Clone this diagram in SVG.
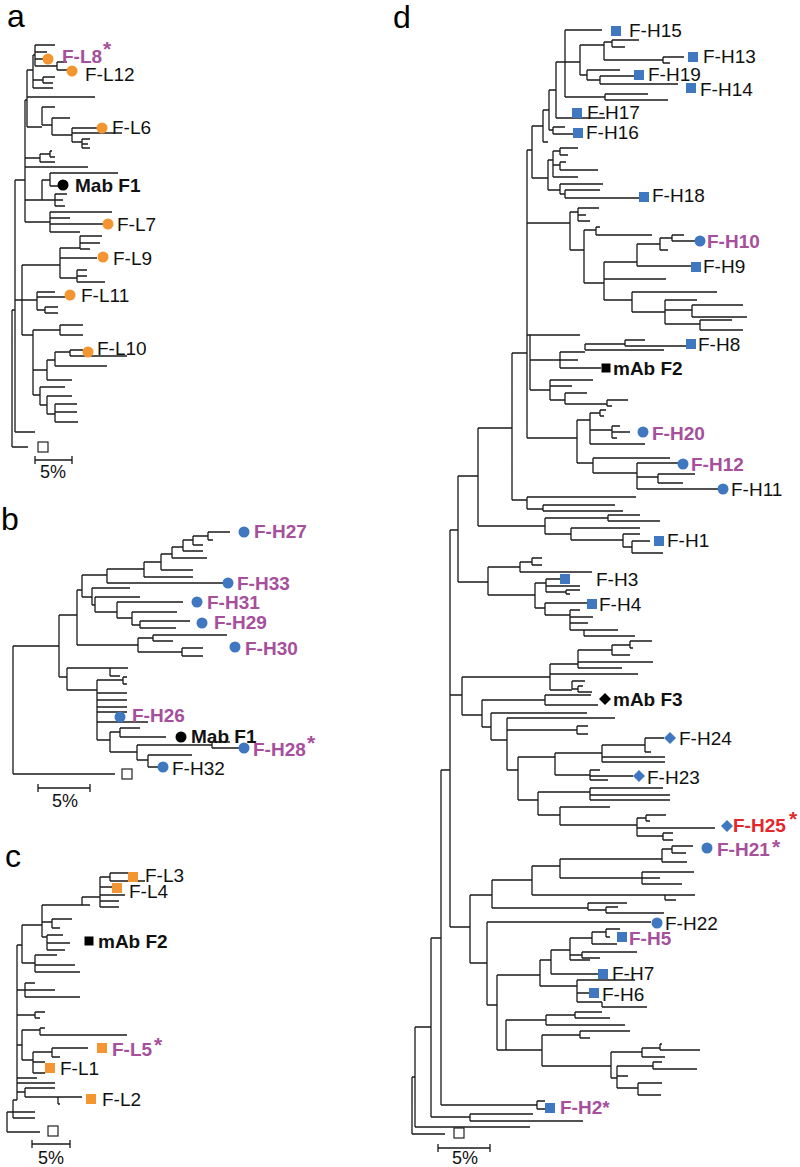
<svg xmlns="http://www.w3.org/2000/svg" width="800" height="1167" viewBox="0 0 800 1167">
<style>
.t{stroke:#1a1a1a;stroke-width:1.3;fill:none}
.lb{font-family:"Liberation Sans",Arial,sans-serif;font-size:19px;fill:#111}
.bd{font-weight:bold}
.pu{fill:#A64F9B;font-weight:bold}
.rd{fill:#E3272B;font-weight:bold}
.ast{font-family:"Liberation Sans",Arial,sans-serif;font-size:21px;font-weight:bold}
.pl{font-family:"Liberation Sans",Arial,sans-serif;font-size:32px;fill:#000}
.sc{font-family:"Liberation Sans",Arial,sans-serif;font-size:18px;fill:#111}
</style>
<defs>
<circle id="cO" r="5.5" fill="#F39530"/>
<circle id="cB" r="5.5" fill="#3F77C0"/>
<circle id="cK" r="5.5" fill="#000"/>
<rect id="sB" x="-5" y="-5" width="10" height="10" fill="#3F77C0"/>
<rect id="sO" x="-5" y="-5" width="10" height="10" fill="#F39530"/>
<rect id="sK" x="-4.5" y="-4.5" width="9" height="9" fill="#000"/>
<path id="dB" d="M0 -6L6 0L0 6L-6 0Z" fill="#3F77C0"/>
<path id="dK" d="M0 -6L6 0L0 6L-6 0Z" fill="#000"/>
<rect id="og" x="-5" y="-5" width="10" height="10" fill="#fff" stroke="#222" stroke-width="1.2"/>
</defs>
<rect width="800" height="1167" fill="#fff"/>

<g id="panel-labels">
<text class="pl" x="7" y="27">a</text>
<text class="pl" x="1" y="530">b</text>
<text class="pl" x="5" y="867">c</text>
<text class="pl" x="393" y="28">d</text>
</g>

<g id="connectors">
<path id="tree-a" class="t" d="M12 310V447M12 447H28M12 310H15M15 180V432M15 432H35M15 180H25M25 100V222M25 100H27M27 70V127M27 70H33M33 55V88M33 55H35M35 45V66M35 45H55M35 52H47M35 59H43M35 66H57M57 62V70M57 62H67M57 70H67M33 80H43M43 77V83M43 77H55M43 83H53M33 88H53M27 97H95M27 127H42M42 107V125M42 107H55M42 125H52M52 118V135M52 118H70M52 135H72M72 128V142M72 128H97M72 133H122M72 142H82M82 139V148M82 139H90M82 144H88M82 148H90M25 158H40M40 154V162M40 154H50M50 151V157M50 151H52M50 157H55M40 162H55M25 167H88M25 200H42M42 180V200M42 180H50M50 173V186M50 173H118M50 186H58M42 200H55M55 194V206M55 194H67M55 200H63M55 206H65M25 222H50M50 212V232M50 212H112M50 218H70M50 224H103M50 232H80M15 300H22M22 265V335M22 265H60M60 248V278M60 248H80M80 236V249M80 236H102M80 243H100M80 249H90M60 258H97M60 278H77M77 270V282M77 270H87M77 276H87M77 282H105M22 300H37M37 292V310M37 292H55M37 297H65M37 310H45M45 307V313M45 307H58M45 313H58M22 335H33M33 330V395M33 330H60M60 325V335M60 325H83M60 335H83M33 370H47M47 360V380M47 360H55M55 352V366M55 352H70M70 350V356M70 350H83M70 356H127M55 366H107M47 380H72M33 395H40M40 387V405M40 387H65M40 405H47M47 396V414M47 396H72M47 414H55M55 404V422M55 404H77M55 412H77M55 422H78"/>
<path id="scale-a" class="t" d="M35 460H72M35 456V464M72 456V464"/>

<path id="tree-b" class="t" d="M13 646V774M13 646H59M13 774H115M59 615V677M59 615H77M59 677H67M77 590V645M77 590H82M77 645H138M82 575V597M82 575H107M82 597H92M107 569V583M107 569H144M107 583H223M144 562V577M144 562H161M144 577H193M161 554V570M161 554H172M161 570H193M172 547V558M172 547H183M172 558H207M183 540V551M183 540H193M183 551H203M193 536V545M193 536H208M193 545H203M208 532V540M208 532H230M208 540H213M92 588V605M92 588H130M92 605H95M95 597V612M95 597H140M95 612H117M117 602V618M117 602H183M117 618H132M132 612V625M132 612H177M132 625H140M140 621V628M140 621H190M140 628H176M138 638V652M138 638H153M153 635V641M153 635H227M153 641H173M138 652H182M182 648V656M182 648H203M182 656H203M67 668V690M67 668H110M110 668V676M110 668H128M110 676H120M67 690H97M97 680V740M97 680H123M123 677V684M123 677H127M123 684H127M97 693H127M97 700H127M97 707H127M97 712H127M97 722H148M97 740H110M110 732V752M110 732H120M120 728V737M120 728H140M120 737H166M110 752H137M137 745V760M137 745H212M212 742V748M212 742H230M212 748H239M137 760H148M148 755V767M148 755H192M148 767H158"/>
<path id="scale-b" class="t" d="M38 788H90M38 784V792M90 784V792"/>

<path id="tree-c" class="t" d="M7 1112V1132M7 1112H13M7 1132H40M13 1100V1118M13 1100H17M13 1112H35M13 1118H35M17 945V1100M17 945H22M22 925V963M22 925H42M22 963H35M42 905V937M42 905H82M82 897V905M82 897H100M82 905H90M100 877V907M100 877H110M110 873V881M110 873H128M110 881H145M100 887H112M100 895H125M100 901H119M100 907H119M42 922H52M52 919V928M52 919H72M52 928H60M42 937H47M47 935V950M47 935H63M47 943H70M47 950H65M35 955V972M35 955H57M35 965H75M35 972H80M17 990H25M25 983V997M25 983H35M25 990H55M25 997H80M17 1015H35M35 1012V1018M35 1012H45M35 1018H40M17 1045H22M22 1030V1060M22 1030H40M40 1028V1035M40 1028H45M40 1035H127M22 1060H33M33 1052V1073M33 1052H52M52 1048V1057M52 1048H88M52 1057H60M33 1062H45M33 1073H45M17 1078H37M17 1083H55M17 1092H25M25 1088V1097M25 1088H55M25 1097H58M58 1097V1104M58 1097H82M58 1104H60"/>
<path id="scale-c" class="t" d="M32 1144H70M32 1140V1148M70 1140V1148"/>

<path id="tree-d" class="t" d="M412 1077V1134M412 1077H415M412 1134H445M415 1027V1127M415 1027H431M415 1127H530M431 938V1117M431 938H441M431 1117H470M470 1114V1121M470 1114H533M470 1121H583M441 770V1105M441 770H450M441 1105H537M537 1101V1109M537 1101H545M537 1109H545M450 530V927M450 530H458M450 695H462M450 927H470M458 476V582M458 476H478M458 582H488M478 428V526M478 428H512M478 526H545M512 353V500M512 353H527M512 500H527M527 497V509M527 497H636M527 509H543M543 505V511M543 505H615M543 511H623M545 518V534M545 518H608M608 515V521M608 515H640M608 521H660M545 534H571M571 528V540M571 528H640M571 540H623M623 534V547M623 534H640M623 547H632M632 541V553M632 541H650M632 553H663M527 150V438M527 150H532M527 223H570M527 335H530M527 438H577M532 126V178M532 126H543M532 178H548M543 110V142M543 110H549M543 142H548M549 90V130M549 90H556M549 130H553M553 127V134M553 127H565M553 134H573M556 62V118M556 62H565M556 118H605M565 30V97M565 30H602M565 62H580M565 97H605M580 45V75M580 45H604M604 42V60M604 42H612M612 40V47M612 40H639M612 47H625M604 60H663M663 57V63M663 57H684M663 63H670M580 75H587M587 70V80M587 70H620M587 80H600M600 76V84M600 76H634M600 84H678M605 94V100M605 94H648M605 100H668M548 160V190M548 160H553M553 151V177M553 151H560M560 148V155M560 148H578M560 155H568M553 165H560M560 162V170M560 162H566M560 170H598M553 177H578M548 190H560M560 184V194M560 184H603M560 194H565M565 190V198M565 190H600M565 198H639M570 212V250M570 212H578M578 208V221M578 208H599M578 215H586M578 221H590M570 250H584M584 230V283M584 230H596M596 227V235M596 227H600M596 235H652M584 283H604M604 262V300M604 262H637M637 244V266M637 244H660M660 238V250M660 238H672M672 235V241M672 235H684M672 241H695M660 250H668M637 266H691M604 279H666M604 300H632M632 292V312M632 292H717M632 312H665M665 300V324M665 300H697M665 310H692M692 305V317M692 305H743M692 317H747M665 324H700M700 320V330M700 320H732M700 330H743M530 335V390M530 335H580M530 360H560M530 390H550M560 352V368M560 352H585M585 344V350M585 344H625M625 340V346M625 340H645M625 346H686M585 350H664M560 360H578M560 368H601M550 380V400M550 380H593M550 386H572M550 400H565M565 393V404M565 393H587M565 404H607M607 400V406M607 400H628M607 406H612M577 420V463M577 420H590M590 413V444M590 413H600M600 410V416M600 410H606M600 416H604M590 430H612M612 426V438M612 426H620M612 432H630M612 438H617M590 444H645M577 463H593M593 458V473M593 458H670M593 473H637M637 463V489M637 463H678M637 477H658M658 474V483M658 474H695M658 483H683M637 489H718M488 567V595M488 567H520M520 562V572M520 562H532M532 558V565M532 558H542M532 565H542M520 572H592M488 595H535M535 583V608M535 583H546M546 579V592M546 579H560M546 586H580M546 592H566M566 590V594M566 590H580M566 594H570M535 608H545M545 603V615M545 603H587M545 615H570M570 610V630M570 610H580M570 617H593M570 623H588M570 630H584M584 630V636M584 630H618M584 636H635M462 677V715M462 677H550M462 715H482M550 664V690M550 664H578M550 674H638M550 690H572M578 650V668M578 650H612M612 645V655M612 645H630M630 641V648M630 641H652M630 648H633M612 655H630M578 662H653M578 668H622M572 681V689M572 681H585M572 689H578M578 686V692M578 686H583M578 692H592M482 700V727M482 700H545M545 695V705M545 695H591M545 705H598M482 727H491M491 713V740M491 713H587M491 740H507M507 718V770M507 718H615M507 730H577M577 726V734M577 726H588M577 734H588M507 770H518M518 757V800M518 757H555M555 753V775M555 753H602M602 745V762M602 745H645M645 738V752M645 738H664M645 752H651M602 757H665M602 762H665M555 775H590M590 770V780M590 770H600M590 776H633M590 780H608M518 800H538M538 792V815M538 792H590M590 788V800M590 788H663M590 795H670M590 800H670M538 815H560M560 807V825M560 807H610M560 825H637M637 818V836M637 818H646M646 815V821M646 815H666M646 821H650M637 828H715M637 836H663M663 833V840M663 833H673M663 840H673M470 895V963M470 895H492M470 963H487M492 880V908M492 880H532M492 908H588M532 866V895M532 866H560M532 895H695M665 895V900M665 900H676M560 859V878M560 859H662M662 849V862M662 849H672M672 846V853M672 846H693M672 853H686M662 862H687M560 878H642M642 872V884M642 872H694M642 878H660M642 884H682M588 903V910M588 903H627M588 910H606M606 907V913M606 907H618M606 913H664M487 922V1005M487 922H651M487 1005H497M497 975V1050M497 975H540M497 1050H506M540 960V986M540 960H551M551 950V974M551 950H570M570 938V960M570 938H592M592 932V944M592 932H606M606 929V937M606 929H620M606 937H610M592 944H617M570 955H582M582 952V958M582 952H637M582 958H600M570 960H590M551 974H598M540 986H577M577 980V1002M577 980H635M577 993H589M577 1002H602M602 1002V1007M602 1007H647M506 1020V1050M506 1020H546M546 1015V1025M546 1015H575M575 1012V1018M575 1012H602M575 1018H610M546 1025H625M506 1050H542M542 1035V1066M542 1035H580M580 1031V1038M580 1031H630M580 1038H590M542 1066H611M611 1052V1078M611 1052H642M642 1048V1057M642 1048H660M660 1044V1050M660 1044H662M660 1050H700M642 1057H665M611 1078H617M617 1066V1088M617 1066H653M653 1062V1069M653 1062H662M653 1069H697M617 1076H628M617 1088H638M638 1083V1095M638 1083H662M638 1095H661"/>
<path id="scale-d" class="t" d="M438 1148H490M438 1144V1152M490 1144V1152"/>
</g>

<g id="scale-texts">
<text class="sc" x="53" y="478" text-anchor="middle">5%</text>
<text class="sc" x="65" y="807" text-anchor="middle">5%</text>
<text class="sc" x="51" y="1164" text-anchor="middle">5%</text>
<text class="sc" x="465" y="1164" text-anchor="middle">5%</text>
</g>

<g id="outgroups">
<use href="#og" x="43" y="447"/>
<use href="#og" x="127" y="774"/>
<use href="#og" x="53" y="1131"/>
<use href="#og" x="459" y="1133"/>
</g>

<g id="a-FL8"><use href="#cO" x="48" y="59"/><text class="lb pu" x="62" y="63">F-L8</text><text class="ast" x="103" y="56" fill="#A64F9B">*</text></g>
<g id="a-FL12"><use href="#cO" x="72" y="71"/><text class="lb" x="85" y="81">F-L12</text></g>
<g id="a-FL6"><use href="#cO" x="102" y="128"/><text class="lb" x="112" y="134">F-L6</text></g>
<g id="a-MabF1"><use href="#cK" x="63" y="185"/><text class="lb bd" x="75" y="192">Mab F1</text></g>
<g id="a-FL7"><use href="#cO" x="108" y="224"/><text class="lb" x="117" y="231">F-L7</text></g>
<g id="a-FL9"><use href="#cO" x="103" y="257"/><text class="lb" x="113" y="265">F-L9</text></g>
<g id="a-FL11"><use href="#cO" x="70" y="295"/><text class="lb" x="81" y="302">F-L11</text></g>
<g id="a-FL10"><use href="#cO" x="88" y="352"/><text class="lb" x="97" y="355">F-L10</text></g>

<g id="b-FH27"><use href="#cB" x="244" y="532"/><text class="lb pu" x="254" y="538">F-H27</text></g>
<g id="b-FH33"><use href="#cB" x="228" y="583"/><text class="lb pu" x="237" y="590">F-H33</text></g>
<g id="b-FH31"><use href="#cB" x="197" y="602"/><text class="lb pu" x="207" y="609">F-H31</text></g>
<g id="b-FH29"><use href="#cB" x="202" y="623"/><text class="lb pu" x="214" y="629">F-H29</text></g>
<g id="b-FH30"><use href="#cB" x="235" y="647"/><text class="lb pu" x="245" y="655">F-H30</text></g>
<g id="b-FH26"><use href="#cB" x="120" y="717"/><text class="lb pu" x="132" y="722">F-H26</text></g>
<g id="b-MabF1"><use href="#cK" x="181" y="737"/><text class="lb bd" x="191" y="743">Mab F1</text></g>
<g id="b-FH28"><use href="#cB" x="244" y="748"/><text class="lb pu" x="253" y="756">F-H28</text><text class="ast" x="307" y="750" fill="#A64F9B">*</text></g>
<g id="b-FH32"><use href="#cB" x="163" y="767"/><text class="lb" x="172" y="775">F-H32</text></g>

<g id="c-FL3"><use href="#sO" x="133" y="877"/><text class="lb" x="145" y="882">F-L3</text></g>
<g id="c-FL4"><use href="#sO" x="117" y="888"/><text class="lb" x="129" y="898">F-L4</text></g>
<g id="c-mAbF2"><use href="#sK" x="89" y="941"/><text class="lb bd" x="98" y="948">mAb F2</text></g>
<g id="c-FL5"><use href="#sO" x="102" y="1048"/><text class="lb pu" x="112" y="1056">F-L5</text><text class="ast" x="154" y="1052" fill="#A64F9B">*</text></g>
<g id="c-FL1"><use href="#sO" x="50" y="1068"/><text class="lb" x="60" y="1075">F-L1</text></g>
<g id="c-FL2"><use href="#sO" x="91" y="1099"/><text class="lb" x="102" y="1106">F-L2</text></g>

<g id="d-FH15"><use href="#sB" x="616" y="31"/><text class="lb" x="629" y="37">F-H15</text></g>
<g id="d-FH13"><use href="#sB" x="693" y="57"/><text class="lb" x="703" y="63">F-H13</text></g>
<g id="d-FH19"><use href="#sB" x="639" y="75"/><text class="lb" x="648" y="81">F-H19</text></g>
<g id="d-FH14"><use href="#sB" x="691" y="88"/><text class="lb" x="700" y="96">F-H14</text></g>
<g id="d-FH17"><use href="#sB" x="577" y="113"/><text class="lb" x="587" y="119">F-H17</text></g>
<g id="d-FH16"><use href="#sB" x="578" y="133"/><text class="lb" x="586" y="139">F-H16</text></g>
<g id="d-FH18"><use href="#sB" x="644" y="197"/><text class="lb" x="652" y="202">F-H18</text></g>
<g id="d-FH10"><use href="#cB" x="700" y="241"/><text class="lb pu" x="707" y="248">F-H10</text></g>
<g id="d-FH9"><use href="#sB" x="696" y="267"/><text class="lb" x="703" y="273">F-H9</text></g>
<g id="d-FH8"><use href="#sB" x="691" y="344"/><text class="lb" x="698" y="351">F-H8</text></g>
<g id="d-mAbF2"><use href="#sK" x="606" y="368"/><text class="lb bd" x="613" y="375">mAb F2</text></g>
<g id="d-FH20"><use href="#cB" x="643" y="432"/><text class="lb pu" x="652" y="440">F-H20</text></g>
<g id="d-FH12"><use href="#cB" x="683" y="464"/><text class="lb pu" x="691" y="471">F-H12</text></g>
<g id="d-FH11"><use href="#cB" x="723" y="489"/><text class="lb" x="731" y="496">F-H11</text></g>
<g id="d-FH1"><use href="#sB" x="659" y="541"/><text class="lb" x="667" y="547">F-H1</text></g>
<g id="d-FH3"><use href="#sB" x="565" y="579"/><text class="lb" x="596" y="586">F-H3</text></g>
<g id="d-FH4"><use href="#sB" x="592" y="604"/><text class="lb" x="599" y="611">F-H4</text></g>
<g id="d-mAbF3"><use href="#dK" x="605" y="699"/><text class="lb bd" x="613" y="706">mAb F3</text></g>
<g id="d-FH24"><use href="#dB" x="670" y="738"/><text class="lb" x="679" y="745">F-H24</text></g>
<g id="d-FH23"><use href="#dB" x="639" y="776"/><text class="lb" x="647" y="784">F-H23</text></g>
<g id="d-FH25"><use href="#dB" x="727" y="826"/><text class="lb rd" x="733" y="832">F-H25</text><text class="ast" x="789" y="826" fill="#E3272B">*</text></g>
<g id="d-FH21"><use href="#cB" x="707" y="848"/><text class="lb pu" x="717" y="856">F-H21</text><text class="ast" x="772" y="854" fill="#A64F9B">*</text></g>
<g id="d-FH22"><use href="#cB" x="657" y="923"/><text class="lb" x="665" y="930">F-H22</text></g>
<g id="d-FH5"><use href="#sB" x="622" y="937"/><text class="lb pu" x="629" y="945">F-H5</text></g>
<g id="d-FH7"><use href="#sB" x="603" y="974"/><text class="lb" x="612" y="980">F-H7</text></g>
<g id="d-FH6"><use href="#sB" x="594" y="993"/><text class="lb" x="602" y="1001">F-H6</text></g>
<g id="d-FH2"><use href="#sB" x="550" y="1108"/><text class="lb pu" x="560" y="1114">F-H2*</text></g>
</svg>
